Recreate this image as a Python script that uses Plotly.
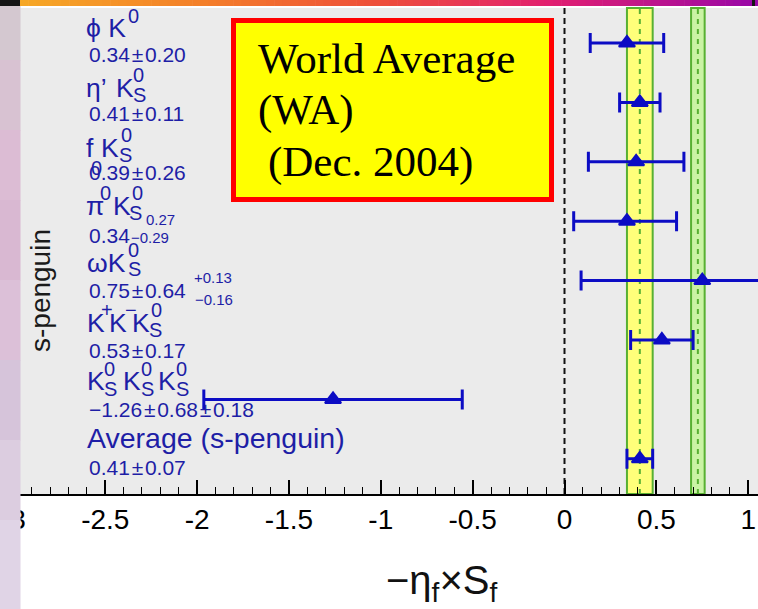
import math
import plotly.graph_objects as go

# ---------------------------------------------------------------- data
# sin(2 beta_eff) measurements in b -> s penguin modes, top to bottom
modes = ["phi K0", "eta' K0S", "f0 K0S", "pi0 K0S", "omega K0S",
         "K+ K- K0S", "K0S K0S K0S", "Average (s-penguin)"]
central = [0.34, 0.41, 0.39, 0.34, 0.75, 0.53, -1.26, 0.41]
stat_hi = [0.20, 0.11, 0.26, 0.27, 0.64, 0.17, 0.68, 0.07]
stat_lo = [0.20, 0.11, 0.26, 0.29, 0.64, 0.17, 0.68, 0.07]
syst_hi = [0.00, 0.00, 0.00, 0.00, 0.13, 0.00, 0.18, 0.00]
syst_lo = [0.00, 0.00, 0.00, 0.00, 0.16, 0.00, 0.18, 0.00]

# charmonium reference value (green band)
ccbar_sin2b = 0.726
ccbar_err = 0.037

tick_vals = [-3, -2.5, -2, -1.5, -1, -0.5, 0, 0.5, 1]
tick_text = ["-3", "-2.5", "-2", "-1.5", "-1", "-0.5", "0", "0.5", "1"]

# ---------------------------------------------------------------- geometry
W, H = 758, 609
PL, PR, PT, PB = 0, 758, 8, 494          # plot area in pixels
X_ZERO, X_SCALE = 564.5, 183.7            # pixel of x=0, pixels per unit
ROW0, ROW_STEP = 43.0, 59.4               # pixel of first row, row pitch

x_range = [(PL - X_ZERO) / X_SCALE, (PR - X_ZERO) / X_SCALE]
y_range = [-(PB - ROW0) / ROW_STEP, (ROW0 - PT) / ROW_STEP]
rows = [-i for i in range(len(modes))]

err_hi = [math.hypot(a, b) for a, b in zip(stat_hi, syst_hi)]
err_lo = [math.hypot(a, b) for a, b in zip(stat_lo, syst_lo)]

avg_val, avg_err = central[-1], stat_hi[-1]

SANS = "Liberation Sans"
SERIF = "Liberation Serif"
TXT_BLUE = "#1e1ea6"
MARK_BLUE = "#0c0cc4"
GREEN = "#58b032"
METRICS = {SANS: (0.905, 0.212), SERIF: (0.891, 0.216)}


def px(x):
    return (x - PL) / (PR - PL)


def py(y):
    return (PB - y) / (PB - PT)


annotations = []


def text_at(x, base, s, size, color=TXT_BLUE, family=SANS, anchor="left"):
    asc, desc = METRICS[family]
    yc = base - (asc - desc) / 2 * size
    annotations.append(dict(
        x=px(x), y=py(yc), xref="paper", yref="paper", text=s,
        showarrow=False, xanchor=anchor, yanchor="middle", borderpad=0,
        font=dict(family=family, size=size, color=color)))


def fmt(v):
    return ("\u2212" if v < 0 else "") + f"{abs(v):.2f}"


PM = "\u200a\u00b1\u200a"

# ---------------------------------------------------------------- labels
MAIN, SMALL, TINY = 26.5, 20, 15
name_pieces = [
    [("\u03d5 K", 85, 37, MAIN), ("0", 127, 23, SMALL)],
    [("\u03b7\u2019", 85, 97, MAIN), ("K", 115, 97, MAIN), ("0", 132, 82, SMALL), ("S", 132, 102, SMALL)],
    [("f", 85, 157, MAIN), ("0", 90, 175, SMALL), ("K", 100, 157, MAIN),
     ("0", 120, 142, SMALL), ("S", 118, 162, SMALL)],
    [("\u03c0", 85, 215, MAIN), ("0", 99, 200, SMALL), ("K", 112, 215, MAIN),
     ("0", 131, 200, SMALL), ("S", 128, 220, SMALL)],
    [("\u03c9K", 86, 272, MAIN), ("0", 127, 257, SMALL), ("S", 127, 276, SMALL)],
    [("K", 86, 332, MAIN), ("+", 100, 317, SMALL), ("K", 108, 332, MAIN), ("\u2212", 124, 317, SMALL),
     ("K", 131, 332, MAIN), ("0", 150, 317, SMALL), ("S", 148, 337, SMALL)],
    [("K", 86, 390, MAIN), ("0", 103, 376, SMALL), ("S", 103, 396, SMALL),
     ("K", 122, 390, MAIN), ("0", 140, 376, SMALL), ("S", 140, 396, SMALL),
     ("K", 157, 390, MAIN), ("0", 175, 376, SMALL), ("S", 175, 396, SMALL)],
    [("Average (s-penguin)", 86, 448, 28.5)],
]
value_base = [62, 121, 180, 243, 298, 358, 417, 475]
VALUE_X, VALUE_SIZE = 88, 21

for pieces in name_pieces:
    for s, x, b, size in pieces:
        text_at(x, b, s, size)

for i, c in enumerate(central):
    sym_stat = stat_hi[i] == stat_lo[i]
    sym_syst = syst_hi[i] == syst_lo[i]
    main = fmt(c)
    if sym_stat:
        main += PM + fmt(stat_hi[i])
    if syst_hi[i] > 0 and sym_syst:
        main += PM + fmt(syst_hi[i])
    text_at(VALUE_X, value_base[i], main, VALUE_SIZE)
    if not sym_stat:
        text_at(145, value_base[i] - 18, fmt(stat_hi[i]), TINY)
        text_at(130, value_base[i], "\u2212" + fmt(stat_lo[i]), TINY)
    if syst_hi[i] > 0 and not sym_syst:
        text_at(193, value_base[i] - 15, "+" + fmt(syst_hi[i]), TINY)
        text_at(194, value_base[i] + 7, "\u2212" + fmt(syst_lo[i]), TINY)

# vertical axis label
annotations.append(dict(
    x=px(40), y=py(291), xref="paper", yref="paper", text="s-penguin",
    textangle=-90, showarrow=False, xanchor="center", yanchor="middle",
    font=dict(family=SANS, size=28, color="#1a1a1a")))

# horizontal axis title
text_at(441, 597, "\u2212\u03b7<sub>f</sub>\u00d7S<sub>f</sub>", 40, color="#111111", anchor="center")

# boxed caption
text_at(257, 73, "World Average", 43, color="black", family=SERIF)
text_at(257, 125, "(WA)", 43, color="black", family=SERIF)
text_at(267, 177, "(Dec. 2004)", 43, color="black", family=SERIF)

# ---------------------------------------------------------------- shapes
shapes = []


def rect_px(x0, y0, x1, y1, color, layer="above", line=None):
    shapes.append(dict(type="rect", xref="paper", yref="paper",
                       x0=px(x0), x1=px(x1), y0=py(y1), y1=py(y0),
                       fillcolor=color, layer=layer,
                       line=line if line else dict(width=0)))


# averaged s-penguin band and charmonium band
for centre, half, fill in [(avg_val, avg_err, "#ffff7a"), (ccbar_sin2b, ccbar_err, "#caf3a4")]:
    shapes.append(dict(type="rect", xref="x", yref="paper",
                       x0=centre - half, x1=centre + half, y0=0, y1=1,
                       fillcolor=fill, layer="below", line=dict(color=GREEN, width=2)))
    shapes.append(dict(type="line", xref="x", yref="paper",
                       x0=centre, x1=centre, y0=0, y1=1, layer="below",
                       line=dict(color=GREEN, width=2, dash="5px,5px")))

# zero line
shapes.append(dict(type="line", xref="x", yref="paper", x0=0, x1=0, y0=0, y1=1,
                   layer="below", line=dict(color="#111111", width=2, dash="6px,4px")))

# caption box
rect_px(233.5, 20.5, 551.5, 199.5, "#ffff00", line=dict(color="#ff0000", width=5))


# title bar gradient along the top
def lerp(c0, c1, t):
    return tuple(round(a + (b - a) * t) for a, b in zip(c0, c1))


stops = [(20, (246, 168, 38)), (200, (244, 128, 42)), (380, (238, 78, 58)),
         (550, (226, 32, 112)), (758, (152, 8, 168))]
nseg = 90
for k in range(nseg):
    xa = 20 + (758 - 20) * k / nseg
    xb = 20 + (758 - 20) * (k + 1) / nseg + 0.6
    xm = (xa + xb) / 2
    for (s0, c0), (s1, c1) in zip(stops[:-1], stops[1:]):
        if s0 <= xm <= s1:
            col = lerp(c0, c1, (xm - s0) / (s1 - s0))
            break
    rect_px(xa, 0, xb, 6, "rgb(%d,%d,%d)" % col)
rect_px(0, 0, 20, 6, "#151515")
rect_px(752, 0, 755, 6, "#151515")

# textured side strip
strip = [(6, "#d4c8d0"), (60, "#d8c2d2"), (130, "#dcbcd4"), (200, "#d9b8d2"),
         (280, "#dcc0d8"), (360, "#d6c4da"), (440, "#dccde0"), (520, "#e0d4e6"), (609, None)]
for (ya, col), (yb, _) in zip(strip[:-1], strip[1:]):
    rect_px(0, ya, 20.5, yb + 0.5, col)

# ---------------------------------------------------------------- figure
fig = go.Figure()
fig.add_trace(go.Scatter(
    x=central, y=rows, mode="markers", text=modes, hoverinfo="text+x",
    marker=dict(symbol="triangle-up", size=14, color=MARK_BLUE,
                line=dict(color=MARK_BLUE, width=2)),
    error_x=dict(type="data", symmetric=False, array=err_hi, arrayminus=err_lo,
                 color=MARK_BLUE, thickness=3, width=10),
))

fig.update_layout(
    width=W, height=H,
    margin=dict(l=PL, r=W - PR, t=PT, b=H - PB, pad=0),
    plot_bgcolor="#ebebeb", paper_bgcolor="white",
    showlegend=False,
    xaxis=dict(
        range=x_range, tickmode="array", tickvals=tick_vals, ticktext=tick_text,
        ticks="inside", ticklen=14, tickwidth=1.5, tickcolor="black",
        showline=True, linecolor="black", linewidth=1.5,
        showgrid=False, zeroline=False, automargin=False,
        tickfont=dict(family=SANS, size=28, color="black"),
        minor=dict(tickmode="linear", tick0=0, dtick=0.1, ticks="inside",
                   ticklen=7, tickwidth=1.2, tickcolor="black", showgrid=False),
    ),
    yaxis=dict(range=y_range, visible=False, showgrid=False, zeroline=False, automargin=False),
    shapes=shapes,
    annotations=annotations,
)

fig.write_html("out.html")
